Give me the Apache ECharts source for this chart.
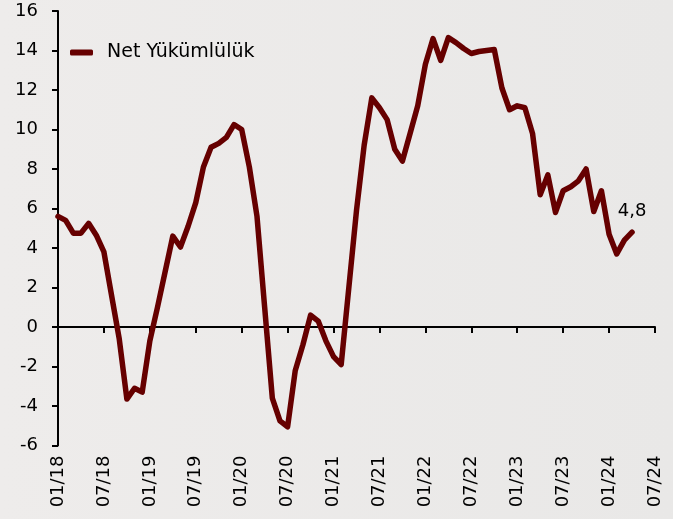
<!DOCTYPE html>
<html>
<head>
<meta charset="utf-8">
<script src="https://cdn.jsdelivr.net/npm/echarts@6/dist/echarts.min.js"></script>
<style>
html,body{margin:0;padding:0;background:#ECEAE9;}
#c{width:673px;height:519px;}
</style>
</head>
<body>
<div id="c"></div>
<script>
var categories = [
 "01/18","02/18","03/18","04/18","05/18","06/18","07/18","08/18","09/18","10/18","11/18","12/18",
 "01/19","02/19","03/19","04/19","05/19","06/19","07/19","08/19","09/19","10/19","11/19","12/19",
 "01/20","02/20","03/20","04/20","05/20","06/20","07/20","08/20","09/20","10/20","11/20","12/20",
 "01/21","02/21","03/21","04/21","05/21","06/21","07/21","08/21","09/21","10/21","11/21","12/21",
 "01/22","02/22","03/22","04/22","05/22","06/22","07/22","08/22","09/22","10/22","11/22","12/22",
 "01/23","02/23","03/23","04/23","05/23","06/23","07/23","08/23","09/23","10/23","11/23","12/23",
 "01/24","02/24","03/24","04/24","05/24","06/24","07/24"
];
var seriesName = "Net Yükümlülük";
var netYukumluluk = [
 5.6, 5.4, 4.75, 4.75, 5.25, 4.65, 3.8, 1.6, -0.6, -3.65, -3.1, -3.3,
 -0.7, 1.0, 2.8, 4.6, 4.05, 5.1, 6.3, 8.1, 9.1, 9.3, 9.6, 10.25,
 10.0, 8.1, 5.6, 1.0, -3.6, -4.75, -5.05, -2.2, -0.9, 0.6, 0.3, -0.7,
 -1.5, -1.9, 2.0, 5.9, 9.2, 11.6, 11.1, 10.5, 9.0, 8.4, 9.8, 11.2,
 13.3, 14.6, 13.5, 14.65, 14.4, 14.1, 13.85, 13.95, 14.0, 14.05, 12.1, 11.0,
 11.2, 11.1, 9.8, 6.7, 7.7, 5.8, 6.9, 7.1, 7.4, 8.0, 5.85, 6.9,
 4.7, 3.7, 4.4, 4.8
];
var yMin = -6, yMax = 16, yStep = 2;

var FONT = "DejaVu Sans";
var lineColor = "#660000";
var lastIdx = netYukumluluk.length - 1;

var chart = echarts.init(document.getElementById("c"), null, {renderer: "canvas"});
chart.setOption({
  backgroundColor: {
    type: "linear", x: 0, y: 0, x2: 1, y2: 0,
    colorStops: [{offset: 0, color: "#EEECEB"}, {offset: 1, color: "#E9E8E7"}]
  },
  animation: false,
  grid: {left: 58, right: 18, top: 11, bottom: 73.5, containLabel: false},
  legend: {
    data: [seriesName],
    left: 65, top: 38,
    icon: "roundRect",
    itemWidth: 23, itemHeight: 6,
    textStyle: {fontFamily: FONT, fontSize: 19, color: "#000", padding: [0, 0, 0, 9]}
  },
  xAxis: [
    {
      type: "category", data: categories, boundaryGap: false,
      axisLine: {onZero: true, lineStyle: {color: "#000", width: 2}},
      axisTick: {show: true, interval: 5, length: 6, inside: false, lineStyle: {color: "#000", width: 2}},
      axisLabel: {show: false},
      splitLine: {show: false}
    },
    {
      type: "category", data: categories, boundaryGap: false, position: "bottom",
      axisLine: {show: false, onZero: false},
      axisTick: {show: false},
      axisLabel: {show: true, interval: 5, rotate: 90, margin: 10, fontFamily: FONT, fontSize: 18, color: "#000"},
      splitLine: {show: false}
    }
  ],
  yAxis: {
    type: "value", min: yMin, max: yMax, interval: yStep,
    axisLine: {show: true, lineStyle: {color: "#000", width: 2}},
    axisTick: {show: true, length: 6, lineStyle: {color: "#000", width: 2}},
    axisLabel: {margin: 20, fontFamily: FONT, fontSize: 18, color: "#000"},
    splitLine: {show: false}
  },
  series: [{
    name: seriesName, type: "line", xAxisIndex: 0, data: netYukumluluk,
    symbol: "circle", symbolSize: 1, showSymbol: true, showAllSymbol: true,
    smooth: false,
    lineStyle: {color: lineColor, width: 5.5, join: "round", cap: "round"},
    itemStyle: {color: lineColor},
    label: {
      show: true, position: "top", distance: 11,
      fontFamily: FONT, fontSize: 18, color: "#000",
      formatter: function (p) {
        return p.dataIndex === lastIdx ? String(p.value).replace(".", ",") : "";
      }
    },
    labelLayout: {hideOverlap: false}
  }]
});
</script>
</body>
</html>
